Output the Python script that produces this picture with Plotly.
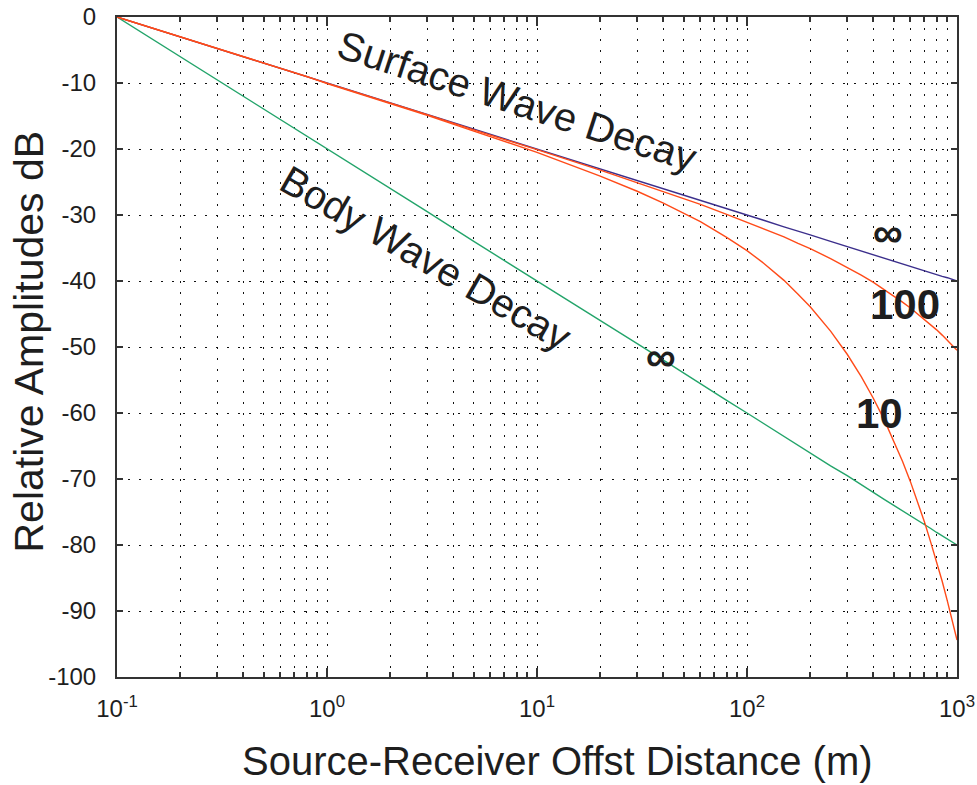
import plotly.graph_objects as go

# Offset distances (m) at which the curves were read
offsets = [0.1, 0.2, 0.3, 0.5, 0.8, 1, 2, 3, 5, 8, 10, 20, 30, 40, 50, 60, 80, 100,
           120, 150, 175, 200, 250, 300, 350, 400, 450, 500, 550, 600, 650, 700,
           750, 800, 850, 900, 950, 1000]

# Body wave decay, Q = infinity (dB)
body_inf = [0, -6.0, -9.5, -14.0, -18.1, -20.0, -26.0, -29.5, -34.0, -38.1, -40.0,
            -46.0, -49.5, -52.0, -54.0, -55.6, -58.1, -60.0,
            -61.6, -63.5, -64.9, -66.0, -68.0, -69.5, -70.9, -72.0, -73.1, -74.0,
            -74.8, -75.6, -76.3, -76.9, -77.5, -78.1, -78.6, -79.1, -79.6, -80.0]

# Surface wave decay, Q = infinity (dB)
surf_inf = [0, -3.0, -4.8, -7.0, -9.0, -10.0, -13.0, -14.8, -17.0, -19.0, -20.0,
            -23.0, -24.8, -26.0, -27.0, -27.8, -29.0, -30.0,
            -30.8, -31.8, -32.4, -33.0, -34.0, -34.8, -35.4, -36.0, -36.5, -37.0,
            -37.4, -37.8, -38.1, -38.5, -38.8, -39.0, -39.3, -39.5, -39.8, -40.0]

# Surface wave decay, Q = 100 (dB)
surf_q100 = [0, -3.0, -4.8, -7.0, -9.0, -10.0, -13.0, -14.8, -17.1, -19.1, -20.1,
             -23.2, -25.1, -26.4, -27.5, -28.4, -29.9, -31.1,
             -32.1, -33.3, -34.3, -35.1, -36.6, -37.9, -39.1, -40.2, -41.3, -42.2,
             -43.2, -44.1, -45.0, -45.8, -46.6, -47.4, -48.2, -49.0, -49.8, -50.5]

# Surface wave decay, Q = 10 (dB)
surf_q10 = [0, -3.0, -4.8, -7.0, -9.0, -10.1, -13.1, -14.9, -17.3, -19.5, -20.5,
            -24.1, -26.4, -28.2, -29.7, -31.0, -33.4, -35.4,
            -37.3, -39.9, -42.0, -43.9, -47.6, -51.1, -54.5, -57.8, -61.0, -64.2,
            -67.3, -70.4, -73.5, -76.5, -79.6, -82.6, -85.5, -88.5, -91.5, -94.4]

x_tickvals = [0.1, 1, 10, 100, 1000]
x_ticktext = ["10<sup>-1</sup>", "10<sup>0</sup>", "10<sup>1</sup>",
              "10<sup>2</sup>", "10<sup>3</sup>"]
x_minorvals = [m * d for d in [0.1, 1, 10, 100] for m in range(2, 10)]
y_tickvals = [0, -10, -20, -30, -40, -50, -60, -70, -80, -90, -100]
y_ticktext = ["0", "-10", "-20", "-30", "-40", "-50", "-60", "-70", "-80", "-90", "-100"]

GREEN = "#23a46a"
BLUE = "#3c2f8c"
RED = "#ff4b19"
FONT = "Liberation Sans, Arial, sans-serif"
TXT = "#1e1e1e"

fig = go.Figure()
fig.add_trace(go.Scatter(x=offsets, y=body_inf, mode="lines",
                         line=dict(color=GREEN, width=1.4), showlegend=False))
fig.add_trace(go.Scatter(x=offsets, y=surf_inf, mode="lines",
                         line=dict(color=BLUE, width=1.4), showlegend=False))
fig.add_trace(go.Scatter(x=offsets, y=surf_q100, mode="lines",
                         line=dict(color=RED, width=1.4), showlegend=False))
fig.add_trace(go.Scatter(x=offsets, y=surf_q10, mode="lines",
                         line=dict(color=RED, width=1.4), showlegend=False))

grid_dash = "2px,9px"

fig.update_xaxes(
    type="log", range=[-1, 3], automargin=False,
    tickmode="array", tickvals=x_tickvals, ticktext=x_ticktext,
    ticks="inside", ticklen=9, tickcolor="#333", tickwidth=1.5,
    showline=True, linecolor="#333", linewidth=2, mirror="ticks",
    showgrid=True, gridcolor="#111", gridwidth=1, griddash=grid_dash,
    minor=dict(tickmode="array", tickvals=x_minorvals, ticks="inside",
               ticklen=5, tickcolor="#333", showgrid=True, gridcolor="#111",
               gridwidth=1, griddash=grid_dash),
    tickfont=dict(family=FONT, size=24, color=TXT),
    ticklabelstandoff=9,
    zeroline=False,
)
fig.update_yaxes(
    range=[-100, 0], automargin=False,
    tickmode="array", tickvals=y_tickvals, ticktext=y_ticktext,
    ticks="inside", ticklen=6, tickcolor="#333", tickwidth=1.5,
    showline=True, linecolor="#333", linewidth=2, mirror="ticks",
    showgrid=True, gridcolor="#111", gridwidth=1, griddash=grid_dash,
    tickfont=dict(family=FONT, size=24, color=TXT),
    ticklabelstandoff=14,
    zeroline=False,
)

# axis titles
fig.add_annotation(x=0.524, y=-0.127, xref="paper", yref="paper",
                   text="Source-Receiver Offst Distance (m)", showarrow=False,
                   xanchor="center", yanchor="middle",
                   font=dict(family=FONT, size=40, color=TXT))
fig.add_annotation(x=-0.105, y=0.508, xref="paper", yref="paper",
                   text="Relative Amplitudes dB", showarrow=False, textangle=-90,
                   xanchor="center", yanchor="middle",
                   font=dict(family=FONT, size=41, color=TXT))

def note(text, lx, y, size, angle=0, bold=False):
    fig.add_annotation(x=lx, y=y, xref="x", yref="y",
                       text=(f"<b>{text}</b>" if bold else text),
                       showarrow=False, textangle=angle,
                       font=dict(family=FONT, size=size, color=TXT))

note("Surface Wave Decay", 0.905, -12.7, 40, angle=18)
note("Body Wave Decay", 0.471, -36.5, 40, angle=30)
note("∞", 2.671, -32.6, 42, bold=True)
note("100", 2.752, -43.6, 42, bold=True)
note("10", 2.633, -60.0, 42, bold=True)
note("∞", 1.590, -51.5, 42, bold=True)

fig.update_layout(
    width=977, height=785,
    margin=dict(l=117, r=20, t=17, b=108),
    paper_bgcolor="white", plot_bgcolor="white",
    font=dict(family=FONT),
)

fig.write_html(
    "out.html",
    config={"displayModeBar": False},
    post_script="document.body.style.margin='0';document.body.style.padding='0';"
                "document.documentElement.style.overflow='hidden';",
)
